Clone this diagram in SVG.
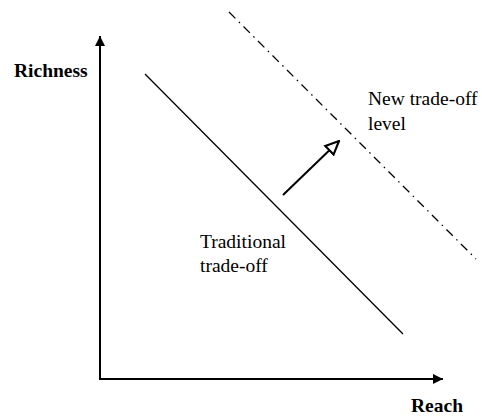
<svg xmlns="http://www.w3.org/2000/svg" width="482" height="420" viewBox="0 0 482 420">
  <style>
    .label { font-family: "Liberation Serif", "Times New Roman", serif; font-size: 19.5px; fill: #000; }
    .bold { font-weight: bold; }
    .axis { stroke: #000; stroke-width: 2; fill: none; }
    .curve { stroke: #000; stroke-width: 1.3; fill: none; }
    .dashdot { stroke: #000; stroke-width: 1.3; fill: none; stroke-dasharray: 9 5 1.5 5; }
  </style>
  <defs>
    <marker id="solidHead" viewBox="0 0 10 10" refX="10" refY="5" markerWidth="10" markerHeight="10" markerUnits="userSpaceOnUse" orient="auto">
      <path d="M0,0 L10,5 L0,10 Z" fill="#000"/>
    </marker>
    <marker id="openHead" viewBox="0 0 12 12" refX="11" refY="6" markerWidth="16" markerHeight="16" markerUnits="userSpaceOnUse" orient="auto">
      <path d="M1,1.5 L11,6 L1,10.5 Z" fill="#fff" stroke="#000" stroke-width="1.6"/>
    </marker>
  </defs>

  <g id="connectors">
    <line class="axis" x1="100" y1="379" x2="100" y2="36" marker-end="url(#solidHead)"/>
    <line class="axis" x1="99" y1="379" x2="443" y2="379" marker-end="url(#solidHead)"/>
    <line id="shift-arrow" class="axis" x1="283" y1="195" x2="339" y2="141" marker-end="url(#openHead)"/>
  </g>

  <g id="traditional">
    <line class="curve" x1="145" y1="74" x2="403" y2="334"/>
    <text class="label" x="200" y="248">Traditional</text>
    <text class="label" x="200" y="272">trade-off</text>
  </g>

  <g id="new-level">
    <line class="dashdot" x1="229" y1="12" x2="476" y2="259"/>
    <text class="label" x="368" y="105">New trade-off</text>
    <text class="label" x="368" y="130">level</text>
  </g>

  <g id="richness">
    <text class="label bold" x="14" y="77">Richness</text>
  </g>
  <g id="reach">
    <text class="label bold" x="411" y="412">Reach</text>
  </g>
</svg>
